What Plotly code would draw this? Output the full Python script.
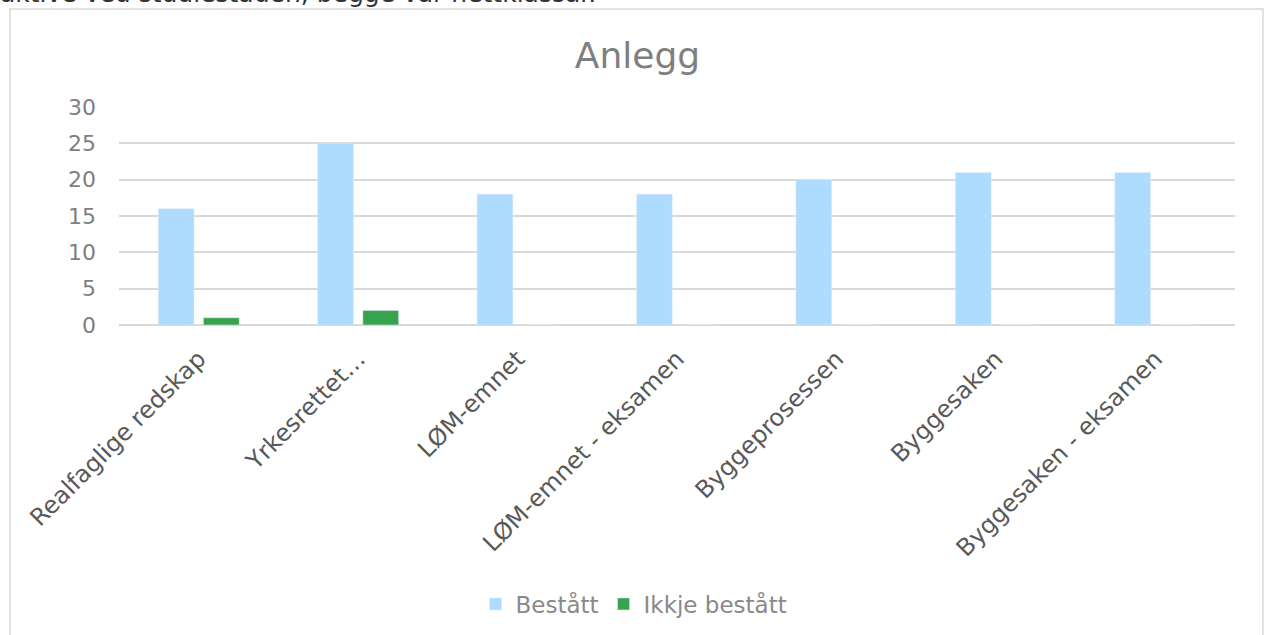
import plotly.graph_objects as go

categories = ["Realfaglige redskap", "Yrkesrettet…", "LØM-emnet", "LØM-emnet - eksamen",
              "Byggeprosessen", "Byggesaken", "Byggesaken - eksamen"]
bestatt = [16, 25, 18, 18, 20, 21, 21]
ikkje_bestatt = [1, 2, 0, 0, 0, 0, 0]
y_ticks = [0, 5, 10, 15, 20, 25, 30]

FONT = "DejaVu Sans"
L, R, T, B = 119, 1235, 107, 325
W, H = 1264, 635
pw, ph = R - L, B - T

def px(x):
    return (x - L) / pw

def py(y):
    return (B - y) / ph

fig = go.Figure()
fig.add_trace(go.Bar(x=categories, y=bestatt, name="Bestått", marker_color="#ADDCFE"))
fig.add_trace(go.Bar(x=categories, y=ikkje_bestatt, name="Ikkje bestått", marker_color="#38A34F"))

fig.update_layout(
    width=W, height=H,
    margin=dict(l=L, r=W - R, t=T, b=H - B, autoexpand=False),
    paper_bgcolor="white", plot_bgcolor="white",
    barmode="group", bargap=0.433, bargroupgap=0.208,
    font=dict(family=FONT, color="#7F7F7F"),
    title=dict(text="Anlegg", x=px(637.5), xref="paper", xanchor="center", y=1 - 55 / H, yanchor="middle",
               font=dict(size=36, color="#7F7F7F", family=FONT)),
    showlegend=True,
    legend=dict(orientation="h", x=px(634), xanchor="center", y=py(604), yanchor="middle",
                font=dict(size=23, color="#898989", family=FONT), itemwidth=30,
                bgcolor="rgba(0,0,0,0)"),
    xaxis=dict(tickangle=-45, tickfont=dict(size=24, color="#595959", family=FONT),
               showgrid=False, showline=False, ticks="", automargin=False, ticklabelstandoff=14),
    yaxis=dict(range=[0, 30], tickvals=y_ticks, tickfont=dict(size=22, color="#7F7F7F", family=FONT),
               gridcolor="#D9D9D9", gridwidth=1.5, zeroline=True, zerolinecolor="#D9D9D9",
               zerolinewidth=1.5, showline=False, ticks="", ticklen=0, automargin=False,
               ticklabelstandoff=22),
    shapes=[dict(type="rect", xref="paper", yref="paper",
                 x0=px(10), x1=px(1263), y0=py(9), y1=py(660),
                 line=dict(color="#D9D9D9", width=1.5), fillcolor="rgba(0,0,0,0)", layer="below")],
    annotations=[dict(text="aktive ved studiestaden, begge var nettklassar.", xref="paper", yref="paper",
                      x=px(-2), y=py(10), xanchor="left", yanchor="bottom", showarrow=False,
                      font=dict(size=25, color="#333333", family=FONT))],
)

fig.write_html("out.html", config={"displayModeBar": False},
               post_script="document.body.style.margin='0';document.body.style.overflow='hidden';")
